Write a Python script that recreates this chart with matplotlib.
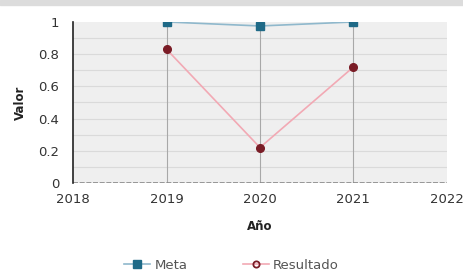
import numpy as np
import matplotlib
matplotlib.use("Agg")
import matplotlib.pyplot as plt
from matplotlib.lines import Line2D
from matplotlib.patches import Rectangle

years = [2019, 2020, 2021]
meta = [1.0, 0.975, 1.0]
resultado = [0.83, 0.22, 0.72]
xticks = [2018, 2019, 2020, 2021, 2022]
yticks = [0, 0.2, 0.4, 0.6, 0.8, 1]
yticklabels = ["0", "0.2", "0.4", "0.6", "0.8", "1"]

meta_line = "#8fb8cc"
meta_mark = "#1f6a87"
res_line = "#f2a9b4"
res_mark = "#7a1c26"

fig = plt.figure(figsize=(4.63, 2.71), dpi=100)
fig.patches.append(Rectangle((0, 0.982), 1, 0.018, transform=fig.transFigure,
                             color="#dcdcdc", zorder=0))
ax = fig.add_axes([0.158, 0.325, 0.807, 0.594])
ax.set_facecolor("#efefef")

ax.set_xlim(2018, 2022)
ax.set_ylim(0, 1)

# minor horizontal grid every 0.1
for v in np.arange(0.1, 1.0, 0.1):
    ax.axhline(v, color="#dadada", lw=0.8, zorder=1)
for yr in years:
    ax.axvline(yr, color="#a8a8a8", lw=0.8, zorder=1)
ax.axhline(0, color="#888888", lw=1.2, ls=(0, (3, 1)), zorder=2)

ax.plot(years, meta, color=meta_line, lw=1.2, marker="s", ms=5.5,
        mfc=meta_mark, mec=meta_mark, zorder=4)
ax.plot(years, resultado, color=res_line, lw=1.2, marker="o", ms=5.5,
        mfc=res_mark, mec=res_mark, zorder=4, clip_on=False)

ax.set_xticks(xticks)
ax.set_xticklabels([str(x) for x in xticks])
ax.set_yticks(yticks)
ax.set_yticklabels(yticklabels)
ax.tick_params(axis="both", length=0, labelsize=9.5, colors="#333333")
ax.tick_params(axis="x", pad=7)
ax.tick_params(axis="y", pad=10)

for s in ["top", "right", "bottom"]:
    ax.spines[s].set_visible(False)
ax.spines["left"].set_color("#222222")
ax.spines["left"].set_linewidth(1.2)

ax.set_xlabel("Año", fontsize=8.5, fontweight="bold", color="#222222", labelpad=10)
ax.set_ylabel("Valor", fontsize=8.5, fontweight="bold", color="#222222", labelpad=8)

handles = [
    Line2D([0], [0], color=meta_line, lw=1.2, marker="s", ms=5.5,
           mfc=meta_mark, mec=meta_mark),
    Line2D([0], [0], color=res_line, lw=1.2, marker="o", ms=4.5,
           mfc="none", mec=res_mark, mew=1.3),
]
fig.legend(handles, ["Meta", "Resultado"], loc="center", bbox_to_anchor=(0.5, 0.022),
           ncol=2, frameon=False, fontsize=9.5, labelcolor="#555555",
           handlelength=2.0, columnspacing=4.2, handletextpad=0.3)

fig.savefig("out.png", dpi=100)
